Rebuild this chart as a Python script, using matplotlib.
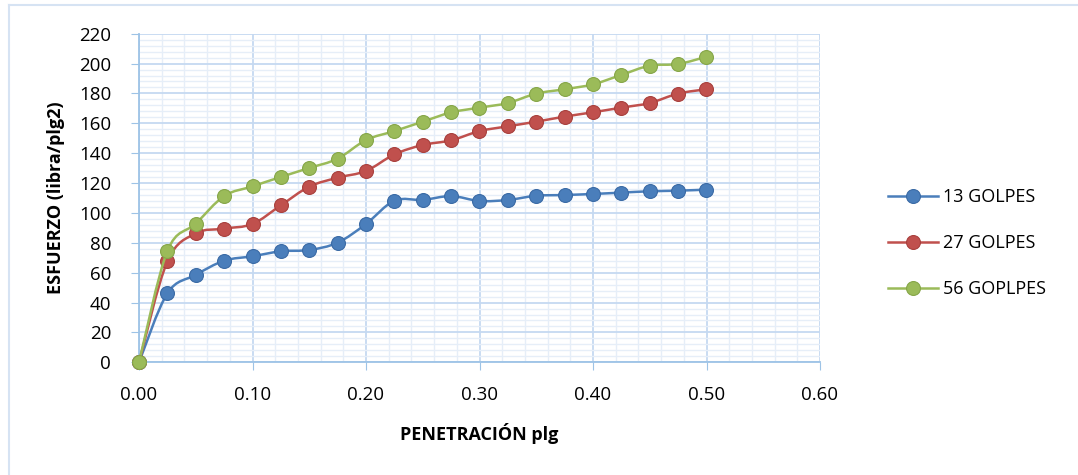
import numpy as np
import matplotlib
matplotlib.use("Agg")
import matplotlib.pyplot as plt
from matplotlib.path import Path
from matplotlib.patches import PathPatch
from matplotlib.lines import Line2D
from matplotlib.ticker import MultipleLocator, FormatStrFormatter

# ---- data ----
penetracion = [0.0, 0.025, 0.05, 0.075, 0.1, 0.125, 0.15, 0.175, 0.2, 0.225, 0.25,
               0.275, 0.3, 0.325, 0.35, 0.375, 0.4, 0.425, 0.45, 0.475, 0.5]
golpes_13 = [0, 46.2, 58.5, 68.0, 71.0, 74.3, 75.2, 80.1, 92.6, 108.2, 108.7,
             111.3, 108.0, 108.7, 111.5, 112.0, 112.7, 113.6, 114.5, 114.9, 115.6]
golpes_27 = [0, 67.6, 86.3, 89.5, 92.6, 105.1, 117.6, 123.6, 128.1, 139.2, 145.5,
             148.6, 154.8, 158.0, 161.1, 164.5, 167.4, 170.5, 173.6, 179.9, 182.8]
golpes_56 = [0, 74.5, 92.8, 111.3, 117.8, 124.1, 130.1, 136.3, 148.8, 154.8, 161.1,
             167.3, 170.5, 173.6, 179.9, 182.8, 186.1, 192.4, 198.6, 199.7, 204.6]
series_labels = ["13 GOLPES", "27 GOLPES", "56 GOPLPES"]
x_label = "PENETRACIÓN plg"
y_label = "ESFUERZO (libra/plg2)"

colors = ["#4A7EBB", "#C0504D", "#9BBB59"]
edge_colors = ["#3A6AA5", "#A8403D", "#86A648"]

plt.rcParams['font.family'] = ['Open Sans', 'DejaVu Sans']

fig = plt.figure(figsize=(10.78, 4.75), dpi=100)
ax = fig.add_axes([139 / 1078, 1 - 362.3 / 475, (820 - 139) / 1078, (362.3 - 33.7) / 475])

ax.set_xlim(0, 0.6)
ax.set_ylim(0, 220)
ax.xaxis.set_major_locator(MultipleLocator(0.1))
ax.xaxis.set_minor_locator(MultipleLocator(0.02))
ax.yaxis.set_major_locator(MultipleLocator(20))
ax.yaxis.set_minor_locator(MultipleLocator(4))
ax.xaxis.set_major_formatter(FormatStrFormatter('%.2f'))

ax.grid(which='major', color='#C5D9F1', linewidth=1.3, zorder=0)
ax.grid(which='minor', color='#E6EEF8', linewidth=1.0, zorder=0)
ax.set_axisbelow(True)

for s in ['top', 'right']:
    ax.spines[s].set_visible(False)
for s in ['left', 'bottom']:
    ax.spines[s].set_color('#9DC3E6')
    ax.spines[s].set_linewidth(1.3)

ax.tick_params(axis='both', which='minor', length=0)
ax.tick_params(axis='x', which='major', length=6, color='#9DC3E6', direction='out',
               labelsize=13.5, pad=11, labelcolor='black')
ax.tick_params(axis='y', which='major', length=6, color='#9DC3E6', direction='out',
               labelsize=13.5, pad=14, labelcolor='black')

def smooth_path(xs, ys):
    pts = np.column_stack([xs, ys]).astype(float)
    n = len(pts)
    verts = [pts[0]]
    codes = [Path.MOVETO]
    for i in range(n - 1):
        p0 = pts[i - 1] if i > 0 else pts[i]
        p1 = pts[i]
        p2 = pts[i + 1]
        p3 = pts[i + 2] if i + 2 < n else pts[i + 1]
        c1 = p1 + (p2 - p0) / 6.0
        c2 = p2 - (p3 - p1) / 6.0
        verts += [c1, c2, p2]
        codes += [Path.CURVE4] * 3
    return Path(verts, codes)

all_series = [golpes_13, golpes_27, golpes_56]
handles = []
for k, ys in enumerate(all_series):
    patch = PathPatch(smooth_path(penetracion, ys), facecolor='none',
                      edgecolor=colors[k], linewidth=1.8, zorder=3 + 2 * k)
    ax.add_patch(patch)
    ax.plot(penetracion, ys, linestyle='none', marker='o', markersize=10,
            markerfacecolor=colors[k], markeredgecolor=edge_colors[k],
            markeredgewidth=0.8, zorder=4 + 2 * k, clip_on=False)
    handles.append(Line2D([0], [0], color=colors[k], linewidth=1.8, marker='o',
                          markersize=10, markerfacecolor=colors[k],
                          markeredgecolor=edge_colors[k], markeredgewidth=0.8,
                          label=series_labels[k]))

ax.set_xlabel(x_label, fontsize=13, fontweight='bold', labelpad=14)
ax.set_ylabel(y_label, fontsize=13, fontweight='bold', labelpad=10)

fig.legend(handles=handles, loc='center left', bbox_to_anchor=(881 / 1078, 1 - 243 / 475),
           frameon=False, fontsize=13, handlelength=2.75, labelspacing=1.55,
           handletextpad=0.3, borderaxespad=0)

# chart frame (top and left visible)
fig.add_artist(Line2D([9 / 1078, 9 / 1078], [0, 1 - 4.5 / 475], transform=fig.transFigure,
                      color='#D6E3F3', linewidth=1.5))
fig.add_artist(Line2D([9 / 1078, 1], [1 - 4.5 / 475, 1 - 4.5 / 475], transform=fig.transFigure,
                      color='#D6E3F3', linewidth=1.5))

fig.savefig("out.png", dpi=100)
